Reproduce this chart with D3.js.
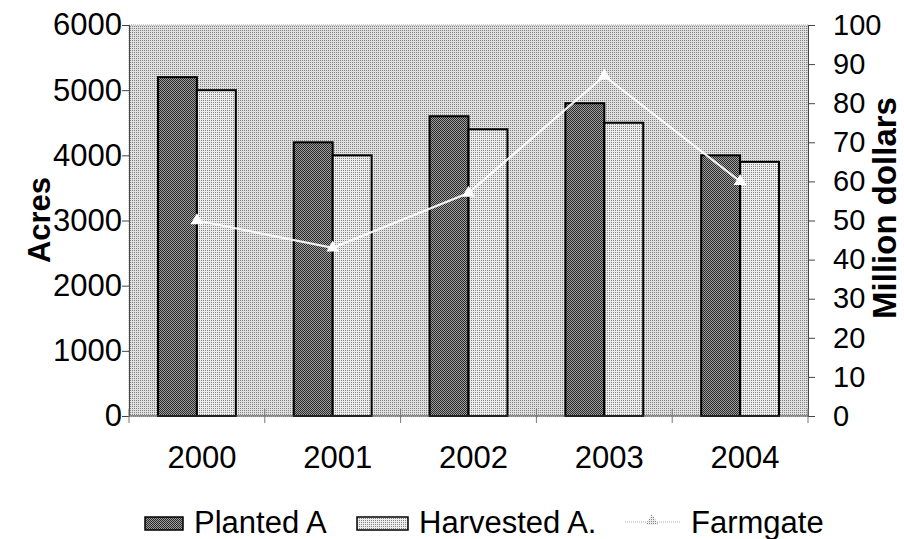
<!DOCTYPE html>
<html>
<head>
<meta charset="utf-8">
<script src="https://cdn.jsdelivr.net/npm/d3@7"></script>
<style>
  body { margin: 0; background: #fff; }
  svg { display: block; font-family: "Liberation Sans", Arial, sans-serif; }
</style>
</head>
<body>
<svg id="chart" width="904" height="539"></svg>
<script>
// data
const years = ['2000', '2001', '2002', '2003', '2004'];
const planted = [5200, 4200, 4600, 4800, 4000];
const harvested = [5000, 4000, 4400, 4500, 3900];
const farmgate = [50, 43, 57, 87, 60];
const acreTicks = [0, 1000, 2000, 3000, 4000, 5000, 6000];
const dollarTicks = [0, 10, 20, 30, 40, 50, 60, 70, 80, 90, 100];

const svg = d3.select('#chart');
const W = 904, H = 539;
const m = { left: 129, right: 96, top: 25, bottom: 123 };
const x0 = m.left, x1 = W - m.right, y0 = H - m.bottom, y1 = m.top;

// patterns (halftone look)
const defs = svg.append('defs');
function pattern(id, bg, dots, fg) {
  const p = defs.append('pattern').attr('id', id)
    .attr('patternUnits', 'userSpaceOnUse').attr('width', 2).attr('height', 2);
  p.append('rect').attr('width', 2).attr('height', 2).attr('fill', bg);
  dots.forEach(([a, b]) => p.append('rect').attr('x', a).attr('y', b)
    .attr('width', 1).attr('height', 1).attr('fill', fg));
}
pattern('bgPat', '#e0e0e0', [[0, 0]], '#808080');
pattern('darkPat', '#a0a0a0', [[0, 0], [1, 1]], '#282828');
pattern('lightPat', '#ececec', [[1, 0]], '#858585');

// scales
const x = d3.scaleBand().domain(years).range([x0, x1])
  .paddingInner(0.427).paddingOuter(0.2135);
const sub = d3.scaleBand().domain(['p', 'h']).range([0, x.bandwidth()]);
const yL = d3.scaleLinear().domain([0, 6000]).range([y0, y1]);
const yR = d3.scaleLinear().domain([0, 100]).range([y0, y1]);

// plot area
svg.append('rect').attr('x', x0).attr('y', y1)
  .attr('width', x1 - x0).attr('height', y0 - y1)
  .attr('fill', 'url(#bgPat)')
  .attr('stroke', '#9a9a9a').attr('stroke-width', 1).attr('stroke-dasharray', '1,1');

// bars
const g = svg.append('g');
g.selectAll('rect.p').data(planted).join('rect')
  .attr('x', (d, i) => x(years[i]) + sub('p'))
  .attr('y', d => yL(d))
  .attr('width', sub.bandwidth())
  .attr('height', d => y0 - yL(d))
  .attr('fill', 'url(#darkPat)').attr('stroke', '#000').attr('stroke-width', 2);
g.selectAll('rect.h').data(harvested).join('rect')
  .attr('x', (d, i) => x(years[i]) + sub('h'))
  .attr('y', d => yL(d))
  .attr('width', sub.bandwidth())
  .attr('height', d => y0 - yL(d))
  .attr('fill', 'url(#lightPat)').attr('stroke', '#000').attr('stroke-width', 2);

// farmgate line
const cx = (d, i) => x(years[i]) + x.bandwidth() / 2;
svg.append('path').datum(farmgate)
  .attr('d', d3.line().x(cx).y(d => yR(d)))
  .attr('fill', 'none').attr('stroke', '#fff').attr('stroke-width', 2.2).attr('opacity', 0.9);
const tri = d3.symbol().type(d3.symbolTriangle).size(70);
svg.selectAll('path.tri').data(farmgate).join('path')
  .attr('transform', (d, i) => `translate(${cx(d, i)},${yR(d)})`)
  .attr('d', tri).attr('fill', '#fff');

// axes
const axL = svg.append('g').attr('transform', `translate(${x0},0)`)
  .call(d3.axisLeft(yL).tickValues(acreTicks).tickSize(7).tickPadding(0).tickFormat(d3.format('d')));
const axR = svg.append('g').attr('transform', `translate(${x1},0)`)
  .call(d3.axisRight(yR).tickValues(dollarTicks).tickSize(7).tickPadding(18));
[axL, axR].forEach(a => {
  a.select('.domain').attr('stroke', '#444');
  a.selectAll('.tick line').attr('stroke', '#444');
  a.selectAll('text').attr('fill', '#000')
    .attr('font-family', '"Liberation Sans", Arial, sans-serif');
});
axL.selectAll('text').attr('font-size', 31);
axR.selectAll('text').attr('font-size', 29);

// x axis
svg.append('line').attr('x1', x0).attr('x2', x1).attr('y1', y0).attr('y2', y0)
  .attr('stroke', '#444');
const bounds = d3.range(years.length + 1).map(i => x0 + i * x.step());
svg.selectAll('line.xt').data(bounds).join('line')
  .attr('x1', d => d).attr('x2', d => d).attr('y1', y0 - 7).attr('y2', y0 + 7)
  .attr('stroke', '#777');
svg.selectAll('text.xl').data(years).join('text')
  .attr('x', d => x(d) + x.bandwidth() / 2 + 5).attr('y', 468)
  .attr('text-anchor', 'middle').attr('font-size', 31).text(d => d);

// axis titles
svg.append('text').attr('transform', 'translate(50,220) rotate(-90)')
  .attr('text-anchor', 'middle').attr('font-size', 31).attr('font-weight', 'bold').text('Acres');
svg.append('text').attr('transform', 'translate(896,208) rotate(-90)')
  .attr('text-anchor', 'middle').attr('font-size', 33).attr('font-weight', 'bold').text('Million dollars');

// legend
const leg = svg.append('g');
leg.append('rect').attr('x', 145).attr('y', 517).attr('width', 38).attr('height', 13)
  .attr('fill', 'url(#darkPat)').attr('stroke', '#000').attr('stroke-width', 1.5);
leg.append('text').attr('x', 194).attr('y', 533).attr('font-size', 31).text('Planted A');
leg.append('rect').attr('x', 357).attr('y', 517).attr('width', 51).attr('height', 13)
  .attr('fill', 'url(#lightPat)').attr('stroke', '#000').attr('stroke-width', 1.5);
leg.append('text').attr('x', 419).attr('y', 533).attr('font-size', 31).text('Harvested A.');
leg.append('line').attr('x1', 625).attr('x2', 680).attr('y1', 522).attr('y2', 522)
  .attr('stroke', '#aaa').attr('stroke-width', 1).attr('stroke-dasharray', '1,1');
leg.append('path').attr('transform', 'translate(652,521)')
  .attr('d', tri).attr('fill', 'url(#lightPat)');
leg.append('text').attr('x', 691).attr('y', 533).attr('font-size', 31).text('Farmgate');
</script>
</body>
</html>
